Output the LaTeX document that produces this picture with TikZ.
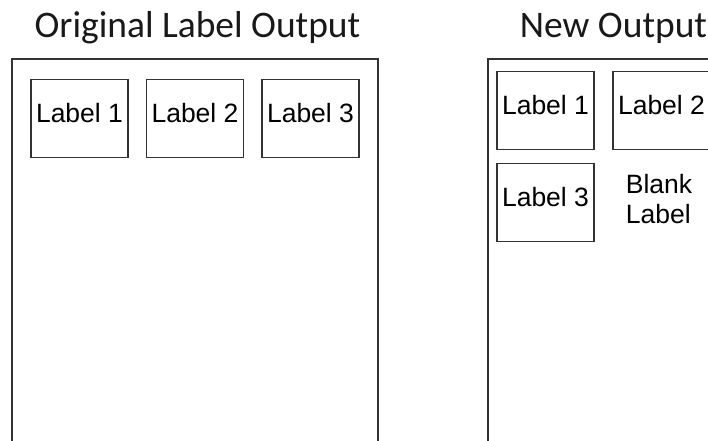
\documentclass[tikz,border=0pt]{standalone}
\usepackage{fontspec}
\newfontfamily\titlefont{Carlito}
\newfontfamily\labelfont{Liberation Sans}
\begin{document}
\begin{tikzpicture}[x=1pt,y=-1pt,
  title/.style={font=\titlefont\fontsize{37.5}{42}\selectfont, text=black!90, inner sep=0pt, anchor=base},
  frame/.style={draw=black!80, line width=1.3pt},
  labelbox/.style={draw=black!80, line width=1.2pt, minimum width=97pt, minimum height=78pt,
    inner sep=0pt, font=\labelfont\fontsize{26.5}{30}\selectfont, text height=19pt, text depth=12pt},
  plaintext/.style={font=\labelfont\fontsize{26.5}{30}\selectfont, align=left, inner sep=0pt}]
\useasboundingbox (0,0) rectangle (708,440);
\clip (0,0) rectangle (708,440);
\fill[white] (0,0) rectangle (708,440);
% titles
\node[title] (t1) at (197.5,37) {Original Label Output};
\node[title] (t2) at (613.5,37) {New Output};
% outer frames
\draw[frame] (12,460) -- (12,59) -- (378,59) -- (378,460);
\draw[frame] (488,460) -- (488,59) -- (730,59);
% original labels
\node[labelbox] (a1) at (79.5,118.5) {Label 1};
\node[labelbox] (a2) at (195,118.5) {Label 2};
\node[labelbox] (a3) at (310.5,118.5) {Label 3};
% new labels
\node[labelbox] (b1) at (545.5,110.5) {Label 1};
\node[labelbox] (b2) at (661.5,110.5) {Label 2};
\node[labelbox] (b3) at (545.5,202.5) {Label 3};
\node[plaintext] (b4) at (659,199) {Blank\\Label};
\end{tikzpicture}
\end{document}
